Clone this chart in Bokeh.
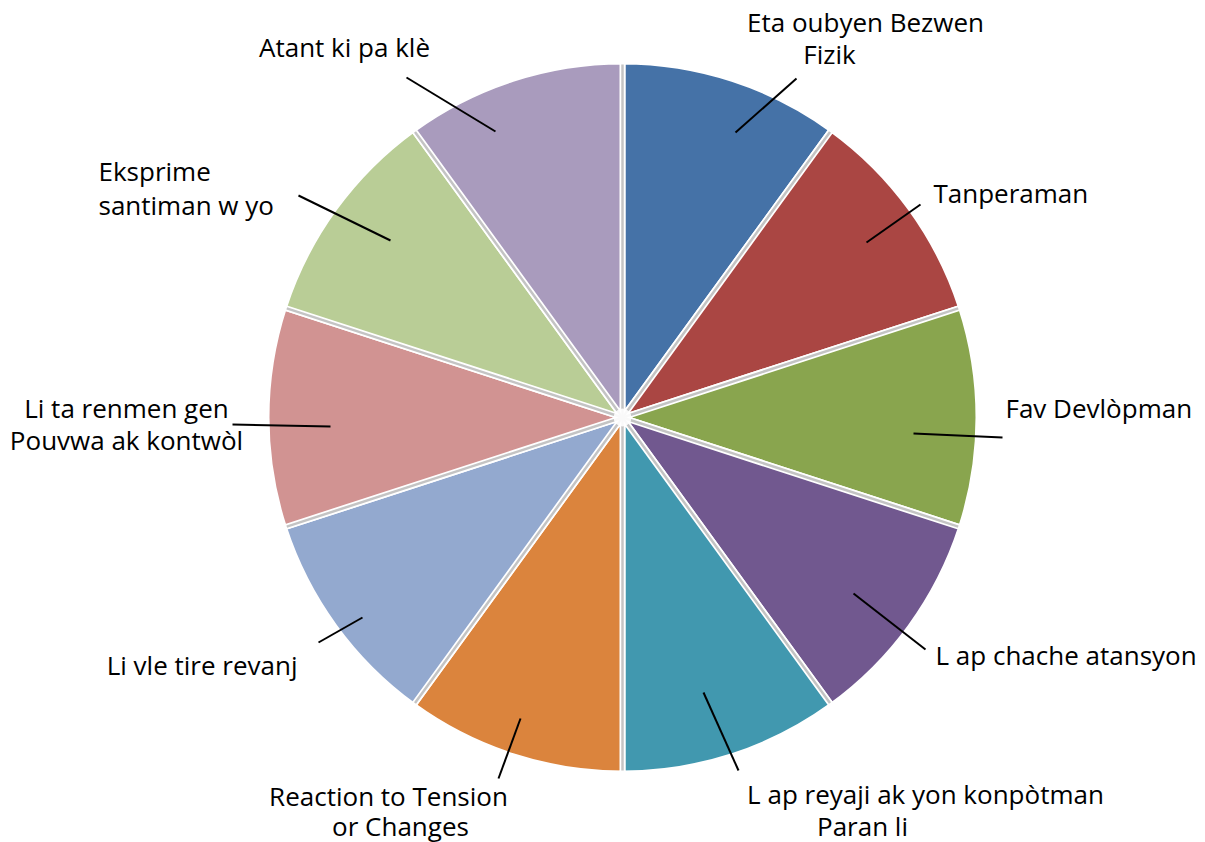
import math
from bokeh.plotting import figure
from bokeh.models import Range1d, ColumnDataSource
from bokeh.core.properties import value
from bokeh.embed import file_html
from bokeh.resources import INLINE

# ---- data ----
categories = [
    "Eta oubyen Bezwen\nFizik",
    "Tanperaman",
    "Fav Devlòpman",
    "L ap chache atansyon",
    "L ap reyaji ak yon konpòtman\nParan li",
    "Reaction to Tension\nor Changes",
    "Li vle tire revanj",
    "Li ta renmen gen\nPouvwa ak kontwòl",
    "Eksprime\nsantiman w yo",
    "Atant ki pa klè",
]
values = [1, 1, 1, 1, 1, 1, 1, 1, 1, 1]
colors = ["#4572A7", "#AA4643", "#89A54E", "#71588F", "#4198AF",
          "#DB843D", "#93A9CF", "#D19392", "#B9CD96", "#A99BBD"]

# ---- layout (pixel coords of the page) ----
W, H = 1205, 842
CX, CY, R = 622, 417, 354
# label line anchors: (x, y, align) per line of each label
label_layout = [
    [(865, 21, "center"), (829, 53, "center")],
    [(933, 192, "left")],
    [(1005, 407, "left")],
    [(935, 654, "left")],
    [(925, 793, "center"), (862, 825, "center")],
    [(388, 795, "center"), (400, 825, "center")],
    [(297, 664, "right")],
    [(126, 407, "center"), (126, 439, "center")],
    [(98, 170, "left"), (98, 204, "left")],
    [(344, 46, "center")],
]
leaders = [
    ((735, 132), (796, 78)),
    ((866, 242), (920, 204)),
    ((913, 433), (1002, 437)),
    ((853, 593), (925, 649)),
    ((703, 692), (738, 770)),
    ((520, 718), (498, 778)),
    ((362, 617), (318, 642)),
    ((330, 426), (232, 424)),
    ((390, 240), (298, 195)),
    ((495, 131), (406, 77)),
]

def px(x, y):
    return x - CX, CY - y

p = figure(width=W, height=H, output_backend="svg", toolbar_location=None,
           x_range=Range1d(-CX, W - CX), y_range=Range1d(CY - H, CY),
           min_border=0, outline_line_color=None)
p.axis.visible = False
p.grid.visible = False
p.background_fill_color = "white"
p.border_fill_color = "white"

total = sum(values)
starts, ends = [], []
cum = 0.0
for v in values:
    a0 = math.pi / 2 - 2 * math.pi * cum / total
    cum += v
    a1 = math.pi / 2 - 2 * math.pi * cum / total
    starts.append(a0)
    ends.append(a1)

src = ColumnDataSource(dict(start=starts, end=ends, color=colors, cat=categories))
# faint outer edge
p.circle(x=0, y=0, radius=R + 1.5, fill_color=None, line_color="#dcdcdc", line_width=1.5)
p.wedge(x=0, y=0, radius=R + 2, start_angle="start", end_angle="end", direction="clock",
        fill_color="color", line_color="white", line_width=6, source=src)
# gray separator bands
sx = [0] * len(starts)
sy = [0] * len(starts)
ex = [(R - 1) * math.cos(a) for a in starts]
ey = [(R - 1) * math.sin(a) for a in starts]
p.segment(x0=sx, y0=sy, x1=ex, y1=ey, line_color="#c4c4c4", line_width=2.5)
# center glow
p.scatter(x=[0], y=[0], size=18, marker="circle", fill_color="white", line_color=None, fill_alpha=0.9)

# leader lines
lx0 = [px(*a)[0] for a, b in leaders]
ly0 = [px(*a)[1] for a, b in leaders]
lx1 = [px(*b)[0] for a, b in leaders]
ly1 = [px(*b)[1] for a, b in leaders]
p.segment(x0=lx0, y0=ly0, x1=lx1, y1=ly1, line_color="black", line_width=2)

# labels
tx, ty, tt, ta = [], [], [], []
for cat, lay in zip(categories, label_layout):
    for line, (x, y, al) in zip(cat.split("\n"), lay):
        xx, yy = px(x, y)
        tx.append(xx); ty.append(yy); tt.append(line); ta.append(al)
tsrc = ColumnDataSource(dict(x=tx, y=ty, t=tt, a=ta))
p.text(x="x", y="y", text="t", text_align="a", text_baseline="middle",
       text_font=value("Open Sans"), text_font_size="26px", text_color="black", source=tsrc)

open("out.html", "w").write(file_html(p, INLINE))
